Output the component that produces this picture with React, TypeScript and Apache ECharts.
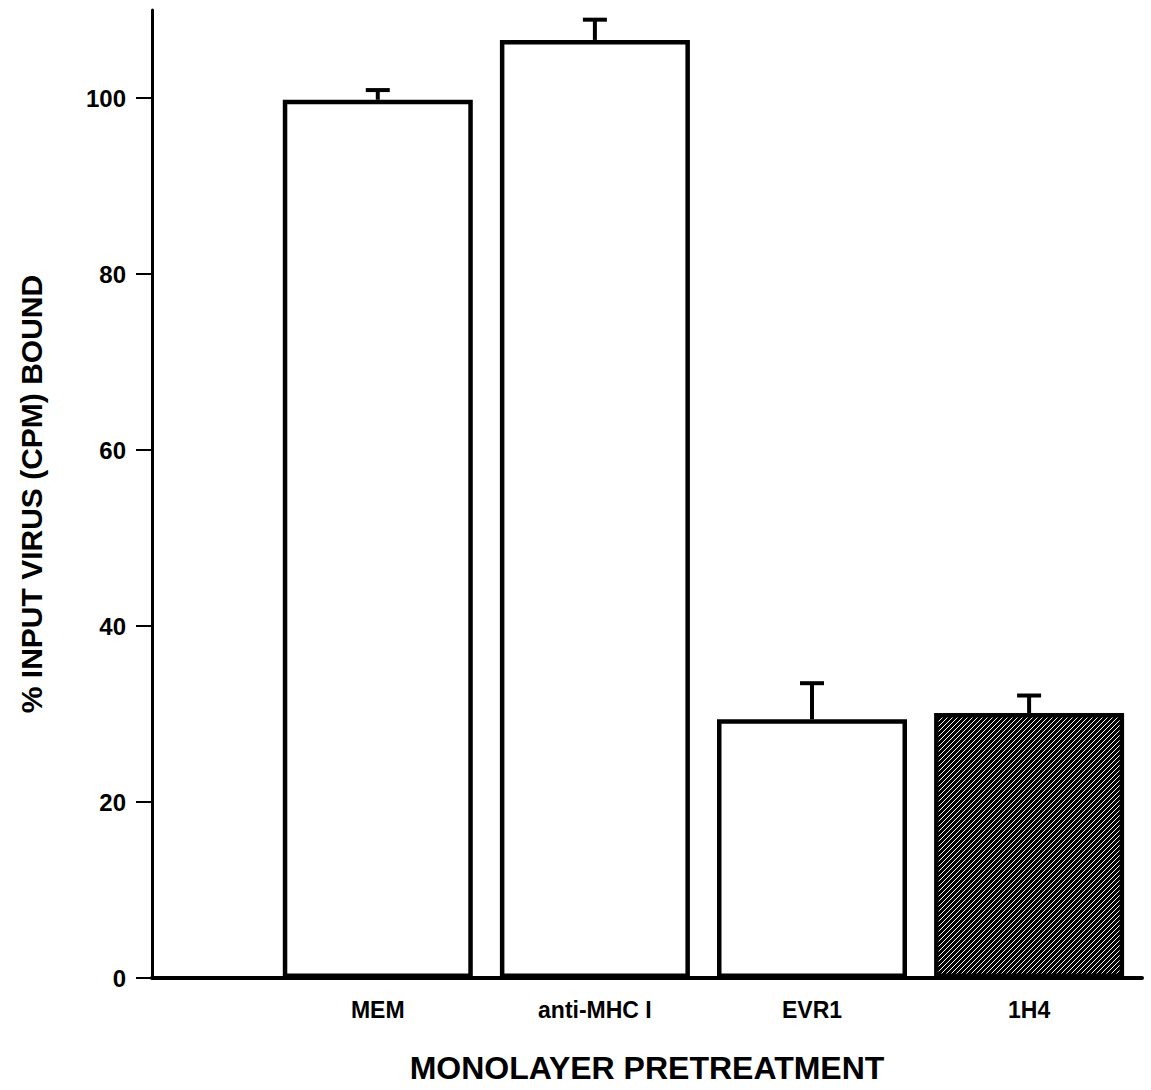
import { useEffect, useRef } from "react";
import * as echarts from "echarts";

// Binding of input virus to pretreated monolayers
const categories = ["MEM", "anti-MHC I", "EVR1", "1H4"];
const boundPercent = [99.8, 106.6, 29.4, 30.1];
const errorUpper = [1.1, 2.3, 4.1, 2.0];
const yTicks = [0, 20, 40, 60, 80, 100];
const hatchedIndex = 3;

const FONT = "Liberation Sans";

function makeHatch(): HTMLCanvasElement {
  const c = document.createElement("canvas");
  c.width = 5;
  c.height = 5;
  const ctx = c.getContext("2d")!;
  ctx.fillStyle = "#000";
  ctx.fillRect(0, 0, 5, 5);
  ctx.strokeStyle = "#fff";
  ctx.lineWidth = 1.0;
  ctx.beginPath();
  // "/" diagonals, tiled seamlessly
  ctx.moveTo(-1, 6);
  ctx.lineTo(6, -1);
  ctx.moveTo(-3, 3);
  ctx.lineTo(3, -3);
  ctx.moveTo(2, 8);
  ctx.lineTo(8, 2);
  ctx.stroke();
  return c;
}

export default function App() {
  const ref = useRef<HTMLDivElement>(null);

  useEffect(() => {
    document.body.style.margin = "0";
    const chart = echarts.init(ref.current!, null, { renderer: "svg" });
    const hatch = makeHatch();

    const barData = boundPercent.map((v, i) => ({
      value: [i + 1, v],
      itemStyle:
        i === hatchedIndex
          ? { color: { image: hatch, repeat: "repeat" } as any }
          : undefined,
    }));

    const errData = boundPercent.map((v, i) => [i + 1, v, v + errorUpper[i]]);

    chart.setOption({
      animation: false,
      backgroundColor: "#fff",
      grid: { left: 152, right: 9, top: 10, bottom: 112 },
      xAxis: {
        type: "value",
        min: -0.04,
        max: 4.52,
        splitLine: { show: false },
        axisTick: { show: false },
        axisLine: { show: true, lineStyle: { color: "#000", width: 4 } },
        axisLabel: {
          customValues: [1, 2, 3, 4],
          formatter: (v: number) => categories[Math.round(v) - 1] ?? "",
          color: "#000",
          fontFamily: FONT,
          fontWeight: "bold",
          fontSize: 23,
          margin: 20,
        },
        name: "MONOLAYER PRETREATMENT",
        nameLocation: "middle",
        nameGap: 74,
        nameTextStyle: {
          color: "#000",
          fontFamily: FONT,
          fontWeight: "bold",
          fontSize: 32,
        },
      },
      yAxis: {
        type: "value",
        min: 0,
        max: 110,
        splitLine: { show: false },
        axisLine: {
          show: true,
          onZero: false,
          lineStyle: { color: "#000", width: 3 },
        },
        axisTick: {
          show: true,
          customValues: yTicks,
          length: 16,
          lineStyle: { color: "#000", width: 2 },
        },
        axisLabel: {
          customValues: yTicks,
          color: "#000",
          fontFamily: FONT,
          fontWeight: "bold",
          fontSize: 24,
          margin: 26,
        },
        name: "% INPUT VIRUS (CPM) BOUND",
        nameLocation: "middle",
        nameRotate: 90,
        nameGap: 106,
        nameTextStyle: {
          color: "#000",
          fontFamily: FONT,
          fontWeight: "bold",
          fontSize: 30,
        },
      },
      series: [
        {
          type: "bar",
          data: barData,
          barWidth: 190,
          itemStyle: { color: "#fff", borderColor: "#000", borderWidth: 4.5 },
          z: 2,
        },
        {
          type: "custom",
          data: errData,
          z: 3,
          renderItem: (_params: any, api: any) => {
            const base = api.coord([api.value(0), api.value(1)]);
            const top = api.coord([api.value(0), api.value(2)]);
            const style = { stroke: "#000", lineWidth: 4 };
            return {
              type: "group",
              children: [
                {
                  type: "line",
                  shape: { x1: base[0], y1: base[1], x2: top[0], y2: top[1] },
                  style,
                },
                {
                  type: "line",
                  shape: { x1: top[0] - 12, y1: top[1], x2: top[0] + 12, y2: top[1] },
                  style,
                },
              ],
            };
          },
        },
      ],
    });

    return () => chart.dispose();
  }, []);

  return <div ref={ref} style={{ width: 1151, height: 1090 }} />;
}
